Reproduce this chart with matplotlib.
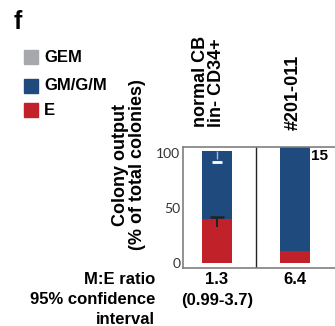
import matplotlib.pyplot as plt
import matplotlib.transforms as mtransforms
from matplotlib.patches import Rectangle

plt.rcParams['font.family'] = ['Liberation Sans', 'DejaVu Sans']

# colony output per sample (% of total colonies)
samples = ['normal CB\nlin- CD34+', '#201-011']
e_pct = [40, 11]
gmgm_pct = [62, 95]
gem_pct = [0, 0]
# error bars: E (low, high) and GM/G/M (low, high)
e_err = [(33, 42)]
gm_err = [(92, 102)]
ratio = ['1.3', '6.4']
ci = ['(0.99-3.7)', '']
n_colonies = ['', '15']

legend_labels = ['GEM', 'GM/G/M', 'E']
c_gem = '#a7a8ab'
c_gm = '#1f4a7e'
c_e = '#c1222a'

fig = plt.figure(figsize=(3.35, 3.26), dpi=100)
W, H = 335, 326
ax = fig.add_axes([183 / W, 1 - 268 / H, (340 - 183) / W, (268 - 147) / H])

x = list(range(len(samples)))
bw = 0.385
ax.bar(x, e_pct, width=bw, color=c_e, zorder=2)
ax.bar(x, gmgm_pct, width=bw, bottom=e_pct, color=c_gm, zorder=2)
ax.bar(x, gem_pct, width=bw, bottom=[a + b for a, b in zip(e_pct, gmgm_pct)], color=c_gem, zorder=2)

# error bars drawn by hand (single caps)
for i, (lo, hi) in enumerate(e_err):
    ax.vlines(x[i], lo, hi, color='#222222', lw=1.5, zorder=3)
    ax.hlines(hi, x[i] - 0.085, x[i] + 0.085, color='#222222', lw=1.8, zorder=3)
for i, (lo, hi) in enumerate(gm_err):
    ax.vlines(x[i], lo + 3, hi, color='#a9bcd6', lw=1, zorder=3)
    ax.hlines(lo, x[i] - 0.065, x[i] + 0.065, color='white', lw=2, zorder=3)

ax.axvline(0.5, color='#222222', lw=1)
ax.set_xlim(-0.436, 1.577)
ax.set_ylim(-4.5, 105.5)
ax.set_yticks([0, 50, 100])
ax.set_xticks([])
ax.tick_params(axis='y', length=0, pad=2, labelsize=10, labelcolor='#333333')
for lab in ax.get_yticklabels():
    lab.set_family('Lato')
for sp in ax.spines.values():
    sp.set_color('#7f7f7f')
    sp.set_linewidth(1.2)

for i, n in enumerate(n_colonies):
    if n:
        ax.text(x[i] + 0.2, 97, n, ha='left', va='center', fontsize=11, fontweight='bold')

# sample names above the bars
fig.text(208.5 / W, 1 - 127 / H, samples[0], rotation=90, ha='center', va='bottom',
         multialignment='left', fontsize=13, fontweight='bold', linespacing=0.95)
fig.text(293 / W, 1 - 130 / H, samples[1], rotation=90, ha='center', va='bottom',
         fontsize=13, fontweight='bold')

fig.text(129 / W, 1 - 165 / H, 'Colony output\n(% of total colonies)', rotation=90,
         ha='center', va='center', fontsize=13, fontweight='bold', linespacing=1.0)

# legend
for k, (lab, col, yc) in enumerate(zip(legend_labels, [c_gem, c_gm, c_e], [57, 85.5, 110])):
    fig.add_artist(Rectangle((24 / W, 1 - (yc + 7) / H), 14 / W, 14 / H,
                             transform=fig.transFigure, color=col))
    fig.text(44 / W, 1 - yc / H, lab, ha='left', va='center', fontsize=12, fontweight='bold')

fig.text(14 / W, 1 - 29 / H, 'f', ha='left', va='baseline', fontsize=18, fontweight='bold')

# ratio table under the bars
for line, yc in zip(['M:E ratio', '95% confidence', 'interval'], [280, 300, 320]):
    fig.text(155 / W, 1 - yc / H, line, ha='right', va='center', fontsize=12, fontweight='bold')
trans = mtransforms.blended_transform_factory(ax.transData, fig.transFigure)
for i in x:
    ax.text(x[i], 1 - 280 / H, ratio[i], transform=trans, ha='center', va='center',
            fontsize=12, fontweight='bold')
    if ci[i]:
        ax.text(x[i], 1 - 300 / H, ci[i], transform=trans, ha='center', va='center',
                fontsize=12, fontweight='bold')

fig.savefig('out.png', dpi=100)
